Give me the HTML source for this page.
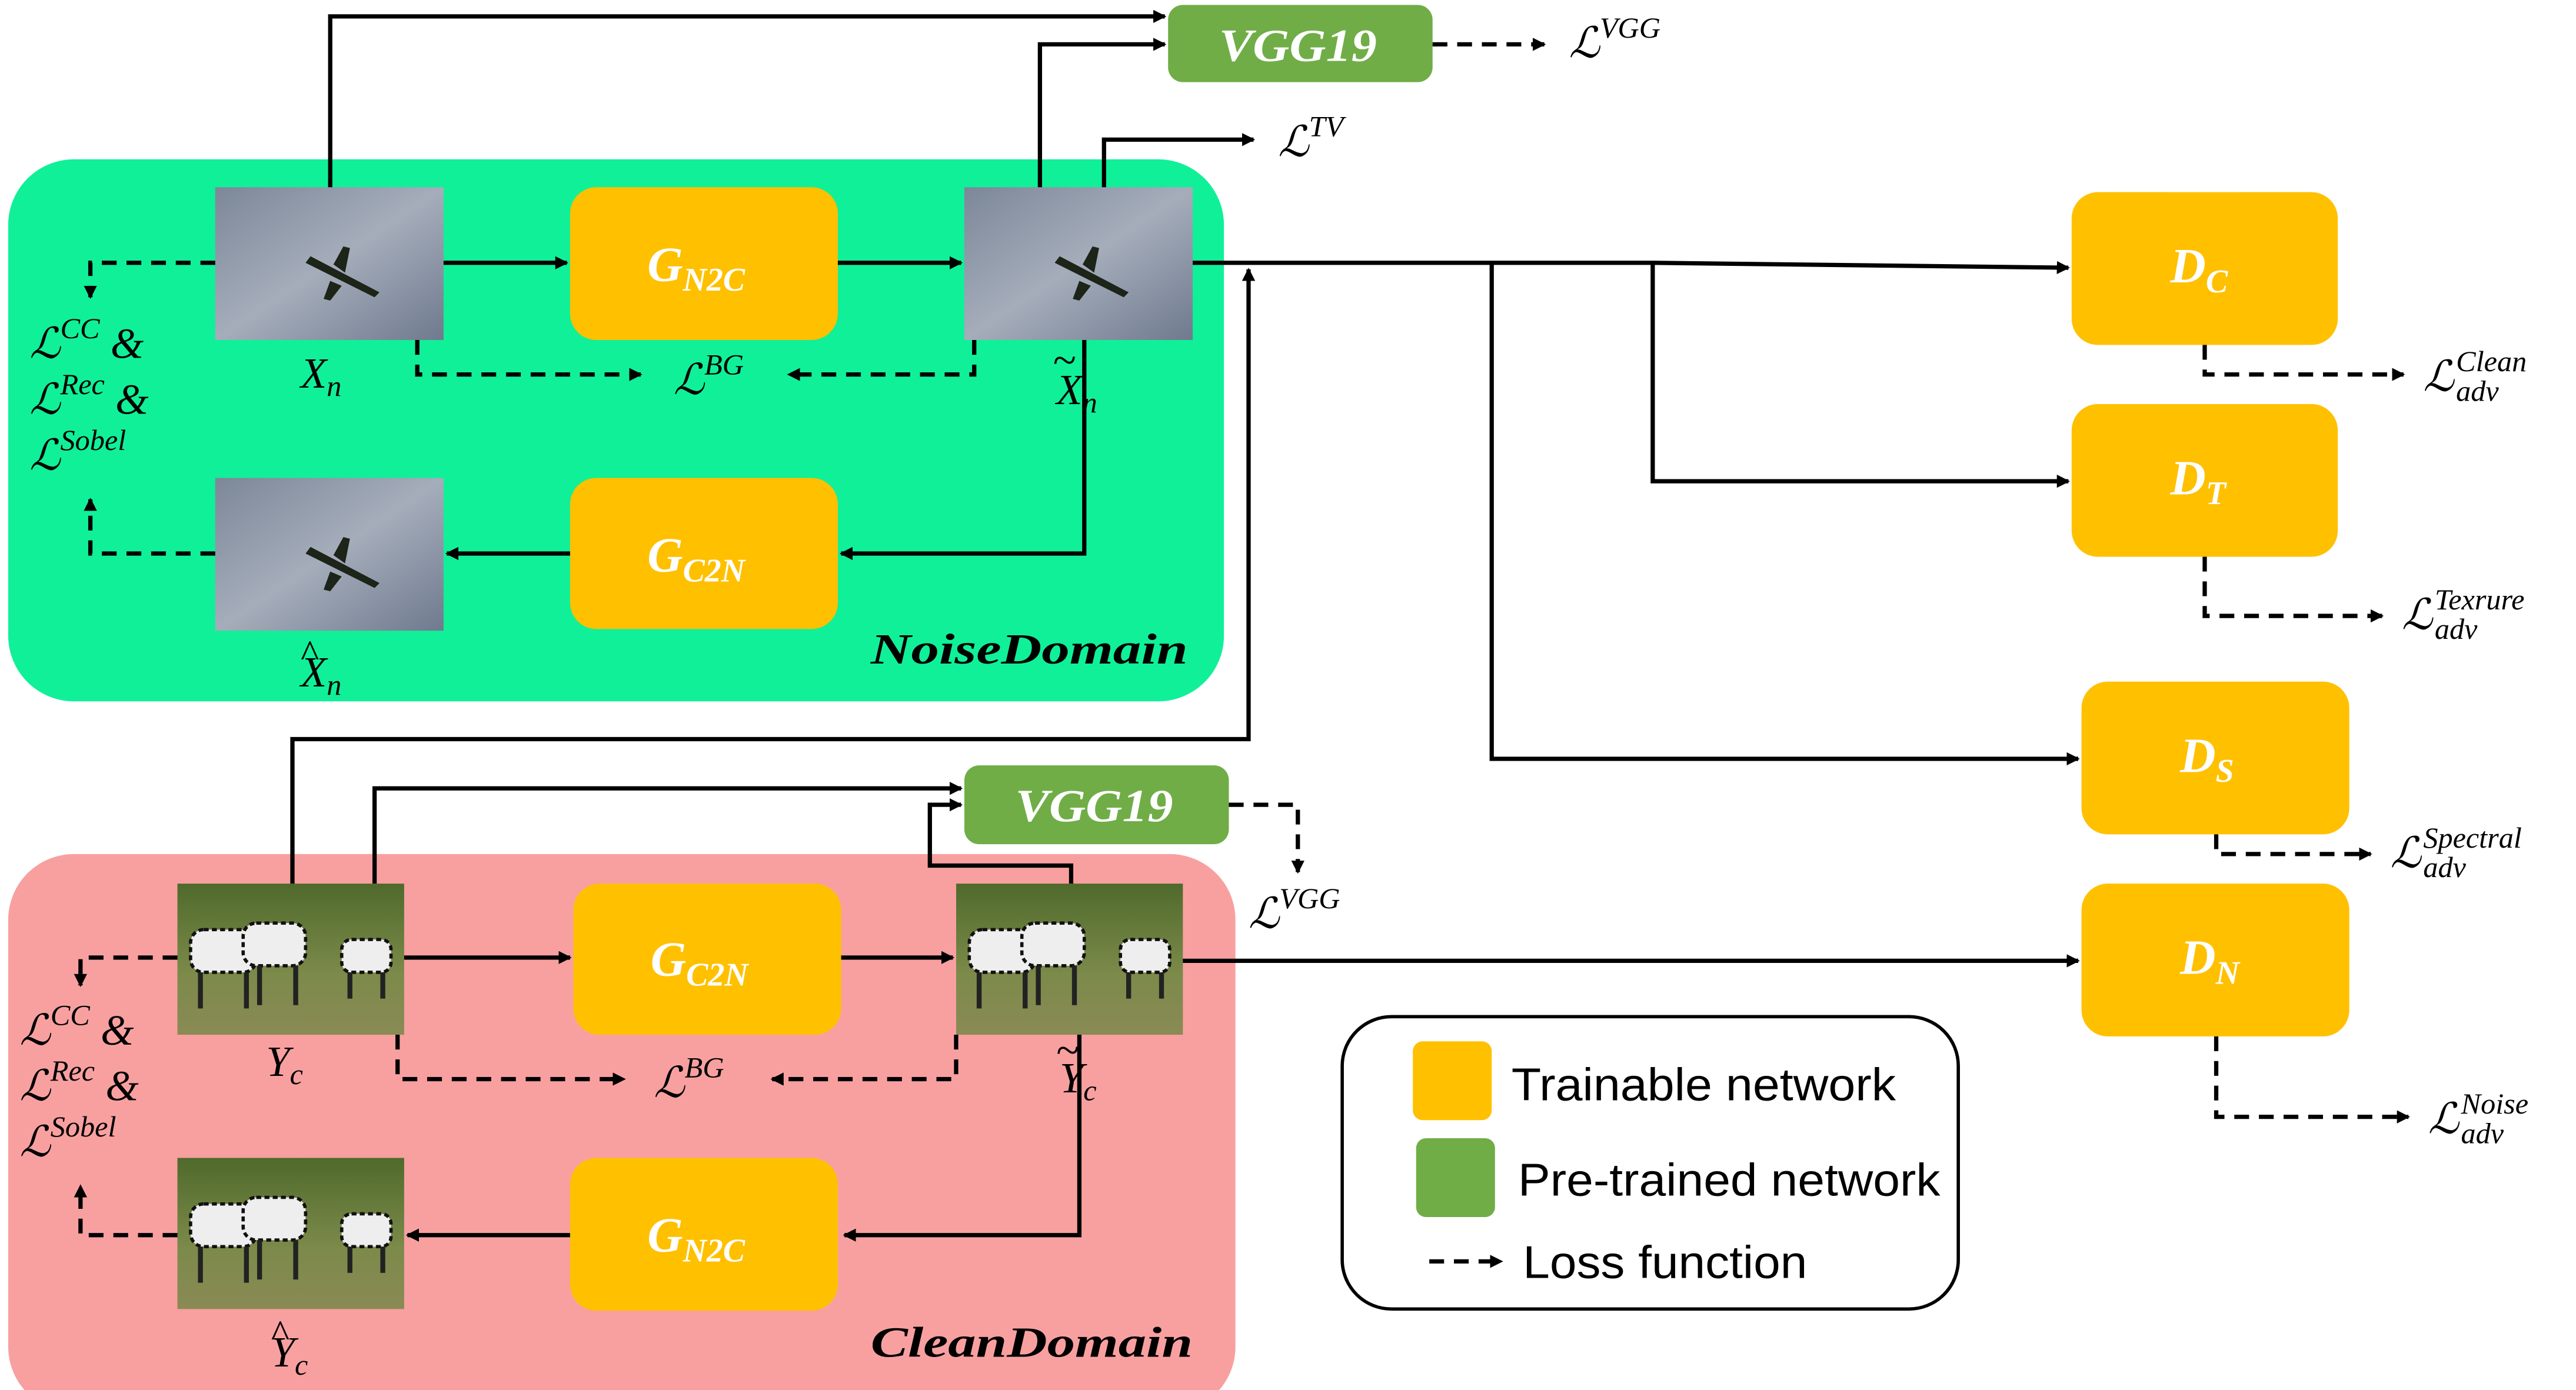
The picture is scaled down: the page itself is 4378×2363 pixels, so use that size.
<!DOCTYPE html>
<html><head><meta charset="utf-8"><style>
html,body{margin:0;padding:0;background:#fff;}
svg{display:block;}
text{font-family:"Liberation Serif","DejaVu Serif",serif;}
.bx{font-family:"Liberation Serif",serif;font-weight:bold;font-style:italic;fill:#fff;}
.lg{font-family:"Liberation Sans",sans-serif;font-size:28px;fill:#000;}
.m{font-style:italic;font-size:26px;}
.s{font-style:italic;font-size:18px;}
</style></head><body>
<svg width="4378" height="2363" viewBox="0 0 1568 846.3" preserveAspectRatio="none" xmlns="http://www.w3.org/2000/svg">
<defs>
<marker id="a" markerWidth="8" markerHeight="8" refX="7" refY="4" orient="auto" markerUnits="userSpaceOnUse" viewBox="0 0 8 8"><path d="M0,0 L8,4 L0,8 z" fill="#000"/></marker>
<linearGradient id="sky" x1="0" y1="0" x2="1" y2="1"><stop offset="0" stop-color="#7c8798"/><stop offset="0.5" stop-color="#a5adbb"/><stop offset="1" stop-color="#6f7a8e"/></linearGradient>
<linearGradient id="grass" x1="0" y1="0" x2="0" y2="1"><stop offset="0" stop-color="#4f6a2c"/><stop offset="0.6" stop-color="#7c8a4a"/><stop offset="1" stop-color="#8a8a55"/></linearGradient>
<g id="plane"><rect width="139" height="93" fill="url(#sky)"/><path d="M58,42 L100,64 L97,67 L55,46 z M72,47 L78,36 L82,37 L79,52 z M70,57 L66,68 L70,69 L77,60 z" fill="#1d2418"/></g>
<g id="zebra"><rect width="138" height="92" fill="url(#grass)"/><g fill="#eee" stroke="#111" stroke-width="2" stroke-dasharray="3 2"><rect x="8" y="28" width="40" height="26" rx="8"/><rect x="40" y="24" width="38" height="26" rx="8"/><rect x="100" y="34" width="30" height="20" rx="6"/></g><g stroke="#222" stroke-width="3"><path d="M14,54v22M42,54v22M50,50v24M72,50v24M105,54v16M125,54v16"/></g></g>
</defs>
<rect x="5" y="97" width="740" height="330" rx="40" fill="#10F098"/>
<rect x="5" y="520" width="747" height="340" rx="40" fill="#F8A0A0"/>
<use href="#plane" x="131" y="114"/><use href="#plane" x="587" y="114"/><use href="#plane" x="131" y="291"/>
<use href="#zebra" x="108" y="538"/><use href="#zebra" x="582" y="538"/><use href="#zebra" x="108" y="705"/>
<g fill="#FFC000">
<rect x="347" y="114" width="163" height="93" rx="16"/>
<rect x="347" y="291" width="163" height="92" rx="16"/>
<rect x="349" y="538" width="163" height="92" rx="16"/>
<rect x="347" y="705" width="163" height="93" rx="16"/>
<rect x="1261" y="117" width="162" height="93" rx="16"/>
<rect x="1261" y="246" width="162" height="93" rx="16"/>
<rect x="1267" y="415" width="163" height="93" rx="16"/>
<rect x="1267" y="538" width="163" height="93" rx="16"/>
</g>
<rect x="711" y="3" width="161" height="47" rx="9" fill="#70AD47"/>
<rect x="587" y="466" width="161" height="48" rx="9" fill="#70AD47"/>
<g class="bx">
<text x="394" y="171" font-size="30">G<tspan font-size="20" dy="6">N2C</tspan></text>
<text x="394" y="348" font-size="30">G<tspan font-size="20" dy="6">C2N</tspan></text>
<text x="396" y="594" font-size="30">G<tspan font-size="20" dy="6">C2N</tspan></text>
<text x="394" y="762" font-size="30">G<tspan font-size="20" dy="6">N2C</tspan></text>
<text x="1321" y="172" font-size="30">D<tspan font-size="20" dy="6">C</tspan></text>
<text x="1321" y="301" font-size="30">D<tspan font-size="20" dy="6">T</tspan></text>
<text x="1327" y="470" font-size="30">D<tspan font-size="20" dy="6">S</tspan></text>
<text x="1327" y="593" font-size="30">D<tspan font-size="20" dy="6">N</tspan></text>
<text x="742" y="37" font-size="28" textLength="96" lengthAdjust="spacingAndGlyphs">VGG19</text>
<text x="618" y="500" font-size="28" textLength="96" lengthAdjust="spacingAndGlyphs">VGG19</text>
</g>
<g stroke="#000" stroke-width="2.6" fill="none" marker-end="url(#a)">
<path d="M201,114 V10 H709"/>
<path d="M633,114 V27 H709"/>
<path d="M672,114 V85 H763"/>
<path d="M270,160 H345"/><path d="M510,160 H585"/>
<path d="M726,160 H1006 L1259,163"/>
<path d="M1006,161 V293 H1259"/>
<path d="M908,161 V462 H1265"/>
<path d="M178,538 V450 H760 V164"/>
<path d="M228,538 V480 H585"/>
<path d="M652,538 V527 H566 V490 H585"/>
<path d="M660,207 V337 H512"/><path d="M347,337 H272"/>
<path d="M246,583 H347"/><path d="M512,583 H580"/>
<path d="M720,585 H1265"/>
<path d="M657,630 V752 H514"/><path d="M347,752 H248"/>
</g>
<rect x="817" y="619" width="375" height="178" rx="30" fill="#fff" stroke="#000" stroke-width="2"/>
<g stroke="#000" stroke-width="2.6" fill="none" stroke-dasharray="9 6" marker-end="url(#a)">
<path d="M872,27 H940"/>
<path d="M131,160 H55 V181"/><path d="M131,337 H55 V304"/>
<path d="M254,207 V228 H390"/><path d="M593,207 V228 H480"/>
<path d="M748,490 H790 V531"/>
<path d="M108,583 H49 V600"/><path d="M108,752 H49 V722"/>
<path d="M242,630 V657 H380"/><path d="M582,630 V657 H470"/>
<path d="M1342,210 V228 H1463"/><path d="M1342,339 V375 H1450"/>
<path d="M1349,508 V520 H1443"/><path d="M1349,631 V680 H1466"/>
<path d="M870,768 H914"/>
</g>
<g>
<text x="955" y="35" class="m">ℒ<tspan class="s" dy="-12">VGG</tspan></text>
<text x="778" y="95" class="m">ℒ<tspan class="s" dy="-12">TV</tspan></text>
<text x="760" y="565" class="m">ℒ<tspan class="s" dy="-12">VGG</tspan></text>
<text x="410" y="240" class="m">ℒ<tspan class="s" dy="-12">BG</tspan></text>
<text x="398" y="668" class="m">ℒ<tspan class="s" dy="-12">BG</tspan></text>
<text x="18" y="218" class="m">ℒ<tspan class="s" dy="-12">CC</tspan><tspan dy="12"> &amp;</tspan></text>
<text x="18" y="252" class="m">ℒ<tspan class="s" dy="-12">Rec</tspan><tspan dy="12"> &amp;</tspan></text>
<text x="18" y="286" class="m">ℒ<tspan class="s" dy="-12">Sobel</tspan></text>
<text x="12" y="636" class="m">ℒ<tspan class="s" dy="-12">CC</tspan><tspan dy="12"> &amp;</tspan></text>
<text x="12" y="670" class="m">ℒ<tspan class="s" dy="-12">Rec</tspan><tspan dy="12"> &amp;</tspan></text>
<text x="12" y="704" class="m">ℒ<tspan class="s" dy="-12">Sobel</tspan></text>
<text x="183" y="236" class="m">X<tspan class="s" dy="5">n</tspan></text>
<text x="643" y="246" class="m">X<tspan class="s" dy="5">n</tspan></text>
<text x="641" y="228" font-size="26">~</text>
<text x="183" y="418" class="m">X<tspan class="s" dy="5">n</tspan></text>
<text x="183" y="406" font-size="24">^</text>
<text x="162" y="655" class="m">Y<tspan class="s" dy="5">c</tspan></text>
<text x="645" y="665" class="m">Y<tspan class="s" dy="5">c</tspan></text>
<text x="643" y="648" font-size="26">~</text>
<text x="165" y="832" class="m">Y<tspan class="s" dy="5">c</tspan></text>
<text x="165" y="820" font-size="24">^</text>
<text x="1475" y="238" class="m">ℒ</text><text x="1495" y="226" class="s">Clean</text><text x="1495" y="244" class="s">adv</text>
<text x="1462" y="383" class="m">ℒ</text><text x="1482" y="371" class="s">Texrure</text><text x="1482" y="389" class="s">adv</text>
<text x="1455" y="528" class="m">ℒ</text><text x="1475" y="516" class="s">Spectral</text><text x="1475" y="534" class="s">adv</text>
<text x="1478" y="690" class="m">ℒ</text><text x="1498" y="678" class="s">Noise</text><text x="1498" y="696" class="s">adv</text>
<text x="530" y="404" font-size="26" font-weight="bold" font-style="italic" textLength="193" lengthAdjust="spacingAndGlyphs">NoiseDomain</text>
<text x="530" y="826" font-size="26" font-weight="bold" font-style="italic" textLength="196" lengthAdjust="spacingAndGlyphs">CleanDomain</text>
</g>
<rect x="860" y="634" width="48" height="48" rx="6" fill="#FFC000"/>
<rect x="862" y="693" width="48" height="48" rx="6" fill="#70AD47"/>
<text x="920" y="670" class="lg" textLength="234" lengthAdjust="spacingAndGlyphs">Trainable network</text>
<text x="924" y="728" class="lg" textLength="257" lengthAdjust="spacingAndGlyphs">Pre-trained network</text>
<text x="927" y="778" class="lg" textLength="173" lengthAdjust="spacingAndGlyphs">Loss function</text>
</svg>
</body></html>
